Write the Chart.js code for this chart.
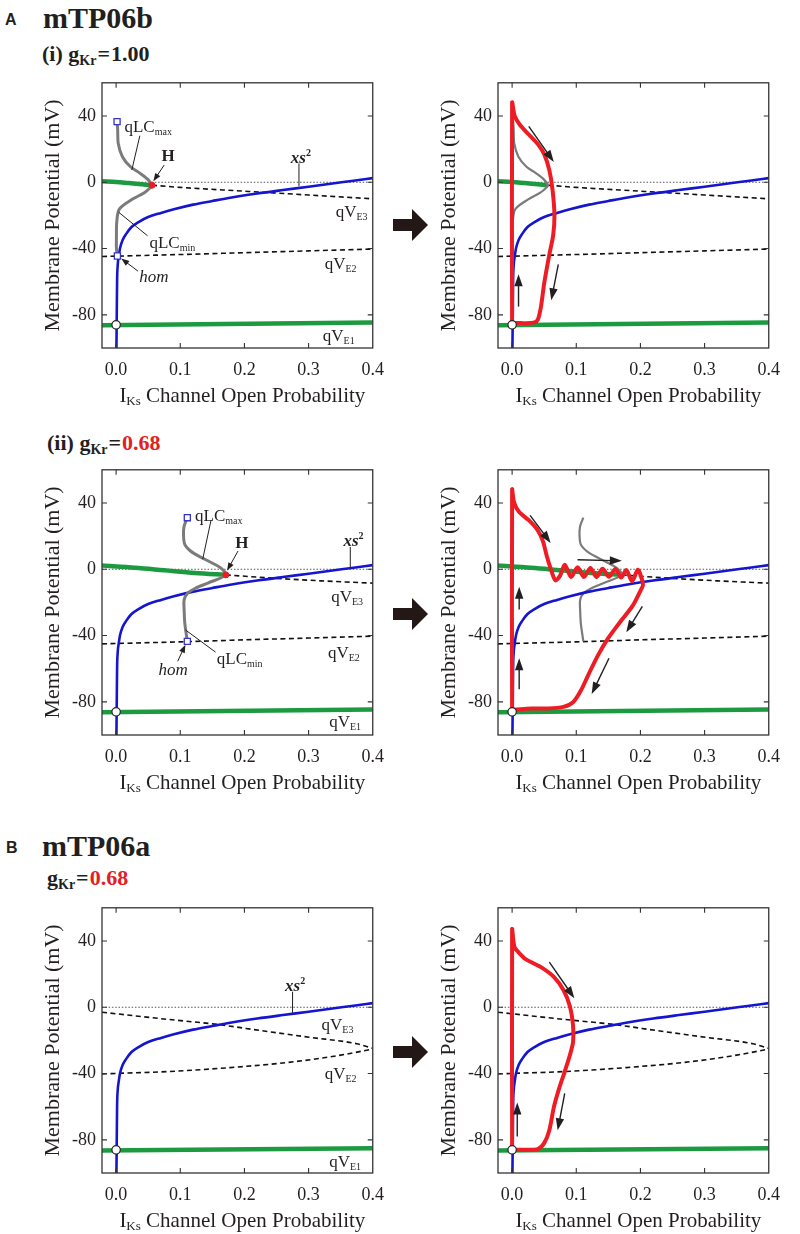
<!DOCTYPE html>
<html>
<head>
<meta charset="utf-8">
<script src="https://cdn.jsdelivr.net/npm/chart.js@4.4.1/dist/chart.umd.min.js"></script>
<style>
  html, body { margin: 0; padding: 0; background: #fff; }
  body { width: 800px; height: 1234px; position: relative; overflow: hidden; color: #231f20; font-family: "Liberation Serif", "Times New Roman", serif; }
  .t { position: absolute; white-space: nowrap; line-height: 1; }
  .letter { font-family: "Liberation Sans", Arial, sans-serif; font-weight: bold; font-size: 16px; }
  .model { font-weight: bold; font-size: 30px; }
  .cond { font-weight: bold; font-size: 22px; }
  .cond .sb { font-size: 14px; position: relative; top: 4px; }
  .cond .eq { margin: 0 1px; }
  .red { color: #e31e24; }
  .pan { position: absolute; width: 367px; height: 344px; }
  .arr { position: absolute; left: 393px; }
</style>
</head>
<body>
<div class="t letter" style="left:5px;top:11.5px">A</div>
<div class="t model" style="left:43px;top:3px">mTP06b</div>
<div class="t cond" style="left:42px;top:43px">(i) g<span class="sb">Kr</span><span class="eq">=</span>1.00</div>
<div class="t cond" style="left:47px;top:431.5px">(ii) g<span class="sb">Kr</span><span class="eq">=</span><span class="red">0.68</span></div>
<div class="t letter" style="left:6px;top:839.5px">B</div>
<div class="t model" style="left:42px;top:831px">mTP06a</div>
<div class="t cond" style="left:47px;top:866.5px">g<span class="sb">Kr</span><span class="eq">=</span><span class="red">0.68</span></div>

<svg class="arr" style="top:208.5px" width="36" height="32"><polygon points="0,10 19,10 19,0 35,16 19,32 19,22 0,22" fill="#231815"/></svg>
<svg class="arr" style="top:597.5px" width="36" height="32"><polygon points="0,10 19,10 19,0 35,16 19,32 19,22 0,22" fill="#231815"/></svg>
<svg class="arr" style="top:1036px" width="36" height="32"><polygon points="0,10 19,10 19,0 35,16 19,32 19,22 0,22" fill="#231815"/></svg>

<div class="pan" style="left:28px;top:66px"><canvas id="a1l"></canvas></div>
<div class="pan" style="left:424px;top:66px"><canvas id="a1r"></canvas></div>
<div class="pan" style="left:28px;top:453px"><canvas id="a2l"></canvas></div>
<div class="pan" style="left:424px;top:453px"><canvas id="a2r"></canvas></div>
<div class="pan" style="left:28px;top:891px"><canvas id="bl"></canvas></div>
<div class="pan" style="left:424px;top:891px"><canvas id="br"></canvas></div>

<script>
Chart.defaults.font.family = '"Liberation Serif", "Times New Roman", serif';
Chart.defaults.color = '#231f20';

const xTicks = [0, 0.1, 0.2, 0.3, 0.4];
const yTicks = [-80, -40, 0, 40];

// xs^2 nullcline (same in all panels)
const xsX = [0.0005, 0.001, 0.0015, 0.0025, 0.004, 0.006, 0.01, 0.016, 0.024, 0.035, 0.05, 0.07, 0.09, 0.12, 0.15, 0.18, 0.22, 0.26, 0.3, 0.34, 0.37, 0.4];
const xsY = [-100, -80, -60, -50, -45, -40, -35, -31, -27, -24, -21, -18.5, -16.3, -13.5, -11.3, -9.2, -6.8, -4.7, -2.7, -0.6, 0.9, 2.5];

// qVE1 branch, zero line, resting point
const e1X = [-0.022, 0.4];
const e1Y = [-86.2, -84.6];
const zeroX = [-0.022, 0.4];
const zeroY = [0, 0];
const restX = [0];
const restY = [-86];

// A (i) gKr = 1.00
const a1UpX = [-0.022, 0, 0.02, 0.04, 0.056];
const a1UpY = [0.6, 0.2, -0.5, -1.2, -1.8];
const a1E3X = [0.056, 0.1, 0.2, 0.3, 0.4];
const a1E3Y = [-1.8, -3.1, -5.4, -7.7, -10];
const a1E2X = [-0.022, 0.1, 0.2, 0.3, 0.4];
const a1E2Y = [-44.8, -43.6, -42.5, -41.4, -40.3];
const a1LcX = [0.0015, 0.0024, 0.0034, 0.0098, 0.022, 0.037, 0.049, 0.056, 0.054, 0.044, 0.025, 0.005, 0.001, 0.0005, 0.0005, 0.002];
const a1LcY = [36.6, 32, 23.2, 15.4, 9.5, 5.5, 1.9, -1.8, -3, -6.3, -10.3, -16.2, -24, -32, -40, -44.5];
const a1HX = [0.056];
const a1HY = [-1.8];
const a1SqX = [0.0015, 0.002];
const a1SqY = [36.6, -44.5];
const a1ApX = [0, 0, 0.004, 0.012, 0.026, 0.04, 0.05, 0.058, 0.063, 0.066, 0.064, 0.058, 0.05, 0.045, 0.04, 0.035, 0.021, 0.003, 0];
const a1ApY = [-85.5, 48, 40, 34.7, 28.8, 23, 17, 7.3, -4.5, -20, -32, -43.7, -61, -75, -83, -84.5, -85, -85, -85.5];

// A (ii) gKr = 0.68
const a2UpX = [-0.022, 0.03, 0.075, 0.123, 0.171];
const a2UpY = [2.2, 0.9, -0.6, -2.2, -3.4];
const a2E3X = [0.171, 0.25, 0.32, 0.4];
const a2E3Y = [-3.4, -5.5, -7.0, -8.4];
const a2E2X = [-0.022, 0.1, 0.2, 0.3, 0.4];
const a2E2Y = [-45, -43.8, -42.6, -41.5, -40.4];
const a2LcX = [0.111, 0.106, 0.105, 0.107, 0.116, 0.128, 0.148, 0.163, 0.171, 0.143, 0.123, 0.111, 0.106, 0.106, 0.107, 0.109, 0.111];
const a2LcY = [31.1, 26, 20.9, 15, 11, 8.1, 4.1, 0.8, -3.4, -8.3, -11.6, -14.6, -18.5, -24.4, -32.3, -38.2, -43.5];
const a2HX = [0.171];
const a2HY = [-3.4];
const a2SqX = [0.111, 0.111];
const a2SqY = [31.1, -43.5];
const a2ApX = [0, 0, 0.003, 0.011, 0.026, 0.04, 0.048, 0.054, 0.06, 0.0675, 0.075, 0.082, 0.092, 0.102, 0.112, 0.122, 0.1315, 0.141, 0.151, 0.161, 0.17, 0.178, 0.187, 0.196, 0.202, 0.204, 0.2, 0.188, 0.168, 0.149, 0.134, 0.119, 0.107, 0.095, 0.08, 0.055, 0.03, 0.003, 0];
const a2ApY = [-84.7, 48, 40.4, 34.5, 29.6, 23.5, 17, 8, 0.5, -6.7, -3.7, 2.7, -4.7, 1.2, -4.7, 0.8, -4.7, 0.3, -4.6, 0.2, -5, -0.5, -7.2, -0.3, -5.7, -9.6, -13, -22, -32, -42, -51.8, -63.5, -73.3, -80.2, -83, -84, -84, -84.7, -84.7];

// B mTP06a gKr = 0.68
const bE3X = [-0.022, 0.08, 0.154, 0.228, 0.301, 0.375, 0.4];
const bE3Y = [-3, -7.3, -10.2, -14.2, -18.1, -22, -24.8];
const bE2X = [-0.022, 0.08, 0.178, 0.277, 0.35, 0.4];
const bE2Y = [-40.2, -38.8, -36.4, -32.9, -28.9, -25.2];
const bE1Y = [-86.4, -85];
const bApX = [0, 0, 0.002, 0.004, 0.008, 0.021, 0.045, 0.065, 0.08, 0.09, 0.095, 0.095, 0.09, 0.082, 0.072, 0.065, 0.058, 0.05, 0.04, 0.021, 0.001];
const bApY = [-86, 47, 40, 36, 34, 29, 24.2, 18.3, 10.4, 0.6, -11.2, -21, -29, -38.8, -50.6, -60.4, -74.2, -82, -85.6, -86, -86];

const BLUE = '#1515d0', GREEN = '#1c9a3f', RED = '#ee1c24', GRAY = '#7b7b7b', INK = '#231f20';

function pts(xs, ys) { return xs.map((x, i) => ({ x: x, y: ys[i] })); }

function curve(xs, ys, color, width, extra) {
  return Object.assign({
    data: pts(xs, ys), borderColor: color, borderWidth: width, showLine: true,
    pointRadius: 0, pointHoverRadius: 0, fill: false, tension: 0
  }, extra || {});
}

function marks(xs, ys, style, r, fill, stroke, bw) {
  return {
    data: pts(xs, ys), showLine: false, pointStyle: style, pointRadius: r, pointHoverRadius: r,
    pointBackgroundColor: fill, pointBorderColor: stroke, pointBorderWidth: bw
  };
}

const mono = { cubicInterpolationMode: 'monotone' };
const dashed = { borderDash: [5, 3.5] };
const dotted = { borderDash: [1.5, 1.8] };

// box with inward ticks on all four sides
const frame = {
  id: 'frame',
  afterDatasetsDraw(chart) {
    const { ctx, chartArea: a, scales } = chart;
    ctx.save();
    ctx.strokeStyle = '#333';
    ctx.lineWidth = 1.3;
    ctx.strokeRect(a.left, a.top, a.right - a.left, a.bottom - a.top);
    ctx.lineWidth = 1.1;
    ctx.beginPath();
    xTicks.forEach(v => {
      const p = scales.x.getPixelForValue(v);
      if (p > a.right - 2) return;
      ctx.moveTo(p, a.bottom); ctx.lineTo(p, a.bottom - 5);
      ctx.moveTo(p, a.top); ctx.lineTo(p, a.top + 5);
    });
    yTicks.forEach(v => {
      const p = scales.y.getPixelForValue(v);
      ctx.moveTo(a.left, p); ctx.lineTo(a.left + 5, p);
      ctx.moveTo(a.right, p); ctx.lineTo(a.right - 5, p);
    });
    ctx.stroke();
    ctx.restore();
  }
};

function rich(ctx, parts, x, y, align) {
  let w = 0;
  parts.forEach(p => { ctx.font = p.f; w += ctx.measureText(p.t).width; });
  let cx = align === 'l' ? x : x - w / 2;
  parts.forEach(p => {
    ctx.font = p.f;
    ctx.fillText(p.t, cx, y + (p.dy || 0));
    cx += ctx.measureText(p.t).width;
  });
}

const FAM = '"Liberation Serif", "Times New Roman", serif';

// x axis title with the subscript
const xTitle = {
  id: 'xTitle',
  afterDraw(chart) {
    const { ctx, chartArea: a } = chart;
    ctx.save();
    ctx.fillStyle = INK;
    ctx.textBaseline = 'alphabetic';
    rich(ctx, [
      { t: 'I', f: '21px ' + FAM },
      { t: 'Ks', f: '13px ' + FAM, dy: 3 },
      { t: ' Channel Open Probability', f: '21px ' + FAM }
    ], (a.left + a.right) / 2 + 5, a.bottom + 54, 'c');
    ctx.restore();
  }
};

function arrowHead(ctx, x1, y1, x2, y2, len, half) {
  const an = Math.atan2(y2 - y1, x2 - x1);
  const c = Math.cos(an), s = Math.sin(an);
  ctx.beginPath();
  ctx.moveTo(x2, y2);
  ctx.lineTo(x2 - len * c + half * s, y2 - len * s - half * c);
  ctx.lineTo(x2 - len * c - half * s, y2 - len * s + half * c);
  ctx.closePath();
  ctx.fill();
}

function annot(notes) {
  return {
    id: 'annot',
    afterDatasetsDraw(chart) {
      const { ctx, scales } = chart;
      const X = v => scales.x.getPixelForValue(v);
      const Y = v => scales.y.getPixelForValue(v);
      ctx.save();
      ctx.fillStyle = INK;
      ctx.strokeStyle = INK;
      ctx.textBaseline = 'alphabetic';
      notes.forEach(n => {
        if (n.k === 'txt') {
          const parts = [];
          if (n.f === 'b') parts.push({ t: n.s, f: 'bold 17px ' + FAM });
          else if (n.f === 'i') parts.push({ t: n.s, f: 'italic 17px ' + FAM });
          else if (n.f === 'bi') parts.push({ t: n.s, f: 'italic bold 17px ' + FAM });
          else parts.push({ t: n.s, f: '17px ' + FAM });
          if (n.sub) parts.push({ t: n.sub, f: '10px ' + FAM, dy: 3 });
          if (n.sup) parts.push({ t: n.sup, f: 'bold 10px ' + FAM, dy: -7 });
          rich(ctx, parts, X(n.x), Y(n.y) + 6, n.al || 'c');
        } else {
          const x1 = X(n.x1), y1 = Y(n.y1), x2 = X(n.x2), y2 = Y(n.y2);
          const big = n.k === 'ar';
          const len = big ? 12 : 8, half = big ? 4.2 : 3;
          ctx.lineWidth = big ? 1.4 : 1;
          let ex = x2, ey = y2;
          if (n.k !== 'ln') {
            const d = Math.hypot(x2 - x1, y2 - y1);
            ex = x2 - (x2 - x1) / d * len * 0.8;
            ey = y2 - (y2 - y1) / d * len * 0.8;
          }
          ctx.beginPath();
          ctx.moveTo(x1, y1);
          ctx.lineTo(ex, ey);
          ctx.stroke();
          if (n.k !== 'ln') arrowHead(ctx, x1, y1, x2, y2, len, half);
        }
      });
      ctx.restore();
    }
  };
}

function panel(id, sets, notes) {
  sets.forEach((s, i) => { s.order = i; });
  new Chart(document.getElementById(id), {
    type: 'scatter',
    data: { datasets: sets },
    options: {
      responsive: true,
      maintainAspectRatio: false,
      animation: false,
      events: [],
      layout: { padding: { top: 12, right: 8, left: 0, bottom: 0 } },
      plugins: { legend: { display: false }, tooltip: { enabled: false } },
      scales: {
        x: {
          type: 'linear', min: -0.022, max: 0.4,
          afterBuildTicks: s => { s.ticks = xTicks.map(v => ({ value: v })); },
          afterFit: s => { s.height = 62; },
          grid: { display: false, drawTicks: false },
          border: { display: false },
          ticks: { padding: 11, font: { size: 18 }, color: INK, maxRotation: 0, autoSkip: false, callback: v => v.toFixed(1) }
        },
        y: {
          type: 'linear', min: -100, max: 60,
          afterBuildTicks: s => { s.ticks = yTicks.map(v => ({ value: v })); },
          afterFit: s => { s.width = 74; },
          grid: { display: false, drawTicks: false },
          border: { display: false },
          ticks: { padding: 6, font: { size: 18 }, color: INK, autoSkip: false, callback: v => String(v) },
          title: { display: true, text: 'Membrane Potential (mV)', font: { size: 22 }, color: INK, padding: { top: 12, bottom: 0 } }
        }
      }
    },
    plugins: [frame, xTitle, annot(notes)]
  });
}

const rest = () => marks(restX, restY, 'circle', 4.2, '#fff', '#222', 1.2);
const zero = () => curve(zeroX, zeroY, '#555', 1, dotted);
const xs = () => curve(xsX, xsY, BLUE, 2.6, mono);

// A (i) left
panel('a1l', [
  rest(),
  marks(a1HX, a1HY, 'circle', 3, RED, RED, 1),
  marks(a1SqX, a1SqY, 'rect', 4.3, '#fff', '#3434c8', 1.3),
  curve(a1LcX, a1LcY, GRAY, 3, { tension: 0.3 }),
  xs(),
  curve(a1UpX, a1UpY, GREEN, 4.5, mono),
  curve(e1X, e1Y, GREEN, 4.5),
  curve(a1E3X, a1E3Y, '#111', 1.6, Object.assign({}, dashed, mono)),
  curve(a1E2X, a1E2Y, '#111', 1.6, Object.assign({}, dashed, mono)),
  zero()
], [
  { k: 'txt', x: 0.013, y: 34, s: 'qLC', sub: 'max', al: 'l' },
  { k: 'ln', x1: 0.037, y1: 28.1, x2: 0.0245, y2: 7.4 },
  { k: 'txt', x: 0.081, y: 16.3, s: 'H', f: 'b' },
  { k: 'pa', x1: 0.075, y1: 10.4, x2: 0.058, y2: 0.6 },
  { k: 'txt', x: 0.288, y: 15.4, s: 'xs', sup: '2', f: 'bi' },
  { k: 'ln', x1: 0.285, y1: 11.4, x2: 0.285, y2: -2.4 },
  { k: 'txt', x: 0.367, y: -17.1, s: 'qV', sub: 'E3' },
  { k: 'txt', x: 0.052, y: -35.9, s: 'qLC', sub: 'min', al: 'l' },
  { k: 'ln', x1: 0.049, y1: -32.3, x2: 0.004, y2: -18.1 },
  { k: 'txt', x: 0.35, y: -48.7, s: 'qV', sub: 'E2' },
  { k: 'txt', x: 0.059, y: -56.5, s: 'hom', f: 'i' },
  { k: 'pa', x1: 0.034, y1: -53.6, x2: 0.008, y2: -46 },
  { k: 'txt', x: 0.347, y: -92, s: 'qV', sub: 'E1' }
]);

// A (i) right
panel('a1r', [
  rest(),
  curve(a1ApX, a1ApY, RED, 4, { tension: 0.25 }),
  xs(),
  curve(a1LcX, a1LcY, GRAY, 2.2, { tension: 0.3 }),
  curve(a1UpX, a1UpY, GREEN, 4.5, mono),
  curve(e1X, e1Y, GREEN, 4.5),
  curve(a1E3X, a1E3Y, '#111', 1.6, Object.assign({}, dashed, mono)),
  curve(a1E2X, a1E2Y, '#111', 1.6, Object.assign({}, dashed, mono)),
  zero()
], [
  { k: 'ar', x1: 0.026, y1: 33.7, x2: 0.065, y2: 12.2 },
  { k: 'ar', x1: 0.072, y1: -49.6, x2: 0.061, y2: -71.2 },
  { k: 'ar', x1: 0.01, y1: -75, x2: 0.01, y2: -55.5 }
]);

// A (ii) left
panel('a2l', [
  rest(),
  marks(a2HX, a2HY, 'circle', 3, RED, RED, 1),
  marks(a2SqX, a2SqY, 'rect', 4.3, '#fff', '#3434c8', 1.3),
  curve(a2LcX, a2LcY, GRAY, 3, { tension: 0.3 }),
  xs(),
  curve(a2UpX, a2UpY, GREEN, 4.5, mono),
  curve(e1X, e1Y, GREEN, 4.5),
  curve(a2E3X, a2E3Y, '#111', 1.6, Object.assign({}, dashed, mono)),
  curve(a2E2X, a2E2Y, '#111', 1.6, Object.assign({}, dashed, mono)),
  zero()
], [
  { k: 'txt', x: 0.123, y: 33, s: 'qLC', sub: 'max', al: 'l' },
  { k: 'ln', x1: 0.148, y1: 29.7, x2: 0.135, y2: 6.1 },
  { k: 'txt', x: 0.196, y: 16.5, s: 'H', f: 'b' },
  { k: 'pa', x1: 0.19, y1: 11, x2: 0.173, y2: -0.8 },
  { k: 'txt', x: 0.37, y: 17.9, s: 'xs', sup: '2', f: 'bi' },
  { k: 'ln', x1: 0.365, y1: 13.4, x2: 0.365, y2: 0.8 },
  { k: 'txt', x: 0.36, y: -16.1, s: 'qV', sub: 'E3' },
  { k: 'txt', x: 0.157, y: -53.5, s: 'qLC', sub: 'min', al: 'l' },
  { k: 'ln', x1: 0.155, y1: -50, x2: 0.108, y2: -36.6 },
  { k: 'txt', x: 0.355, y: -50, s: 'qV', sub: 'E2' },
  { k: 'txt', x: 0.089, y: -60.2, s: 'hom', f: 'i' },
  { k: 'pa', x1: 0.096, y1: -55.5, x2: 0.108, y2: -45.5 },
  { k: 'txt', x: 0.357, y: -91.7, s: 'qV', sub: 'E1' }
]);

// A (ii) right
panel('a2r', [
  rest(),
  curve(a2ApX, a2ApY, RED, 4, { tension: 0.3 }),
  xs(),
  curve(a2LcX, a2LcY, GRAY, 2.2, { tension: 0.3 }),
  curve(a2UpX, a2UpY, GREEN, 4.5, mono),
  curve(e1X, e1Y, GREEN, 4.5),
  curve(a2E3X, a2E3Y, '#111', 1.6, Object.assign({}, dashed, mono)),
  curve(a2E2X, a2E2Y, '#111', 1.6, Object.assign({}, dashed, mono)),
  zero()
], [
  { k: 'ar', x1: 0.028, y1: 32.5, x2: 0.06, y2: 15.9 },
  { k: 'ar', x1: 0.102, y1: 5.7, x2: 0.171, y2: 5.1 },
  { k: 'ar', x1: 0.203, y1: -22.4, x2: 0.178, y2: -38 },
  { k: 'ar', x1: 0.151, y1: -53.7, x2: 0.124, y2: -75.3 },
  { k: 'ar', x1: 0.011, y1: -24.3, x2: 0.011, y2: -10.6 },
  { k: 'ar', x1: 0.011, y1: -72.4, x2: 0.011, y2: -53.7 }
]);

// B left
panel('bl', [
  rest(),
  xs(),
  curve(e1X, bE1Y, GREEN, 4.5),
  curve(bE3X, bE3Y, '#111', 1.6, Object.assign({}, dashed, mono)),
  curve(bE2X, bE2Y, '#111', 1.6, Object.assign({}, dashed, mono)),
  zero()
], [
  { k: 'txt', x: 0.279, y: 13.4, s: 'xs', sup: '2', f: 'bi' },
  { k: 'ln', x1: 0.275, y1: 9.4, x2: 0.275, y2: -3.3 },
  { k: 'txt', x: 0.345, y: -10.2, s: 'qV', sub: 'E3' },
  { k: 'txt', x: 0.35, y: -39.8, s: 'qV', sub: 'E2' },
  { k: 'txt', x: 0.357, y: -92.9, s: 'qV', sub: 'E1' }
]);

// B right
panel('br', [
  rest(),
  curve(bApX, bApY, RED, 4, { tension: 0.25 }),
  xs(),
  curve(e1X, bE1Y, GREEN, 4.5),
  curve(bE3X, bE3Y, '#111', 1.6, Object.assign({}, dashed, mono)),
  curve(bE2X, bE2Y, '#111', 1.6, Object.assign({}, dashed, mono)),
  zero()
], [
  { k: 'ar', x1: 0.058, y1: 27.2, x2: 0.097, y2: 5.5 },
  { k: 'ar', x1: 0.082, y1: -52, x2: 0.071, y2: -74.2 },
  { k: 'ar', x1: 0.008, y1: -78, x2: 0.008, y2: -57.5 }
]);
</script>
</body>
</html>
